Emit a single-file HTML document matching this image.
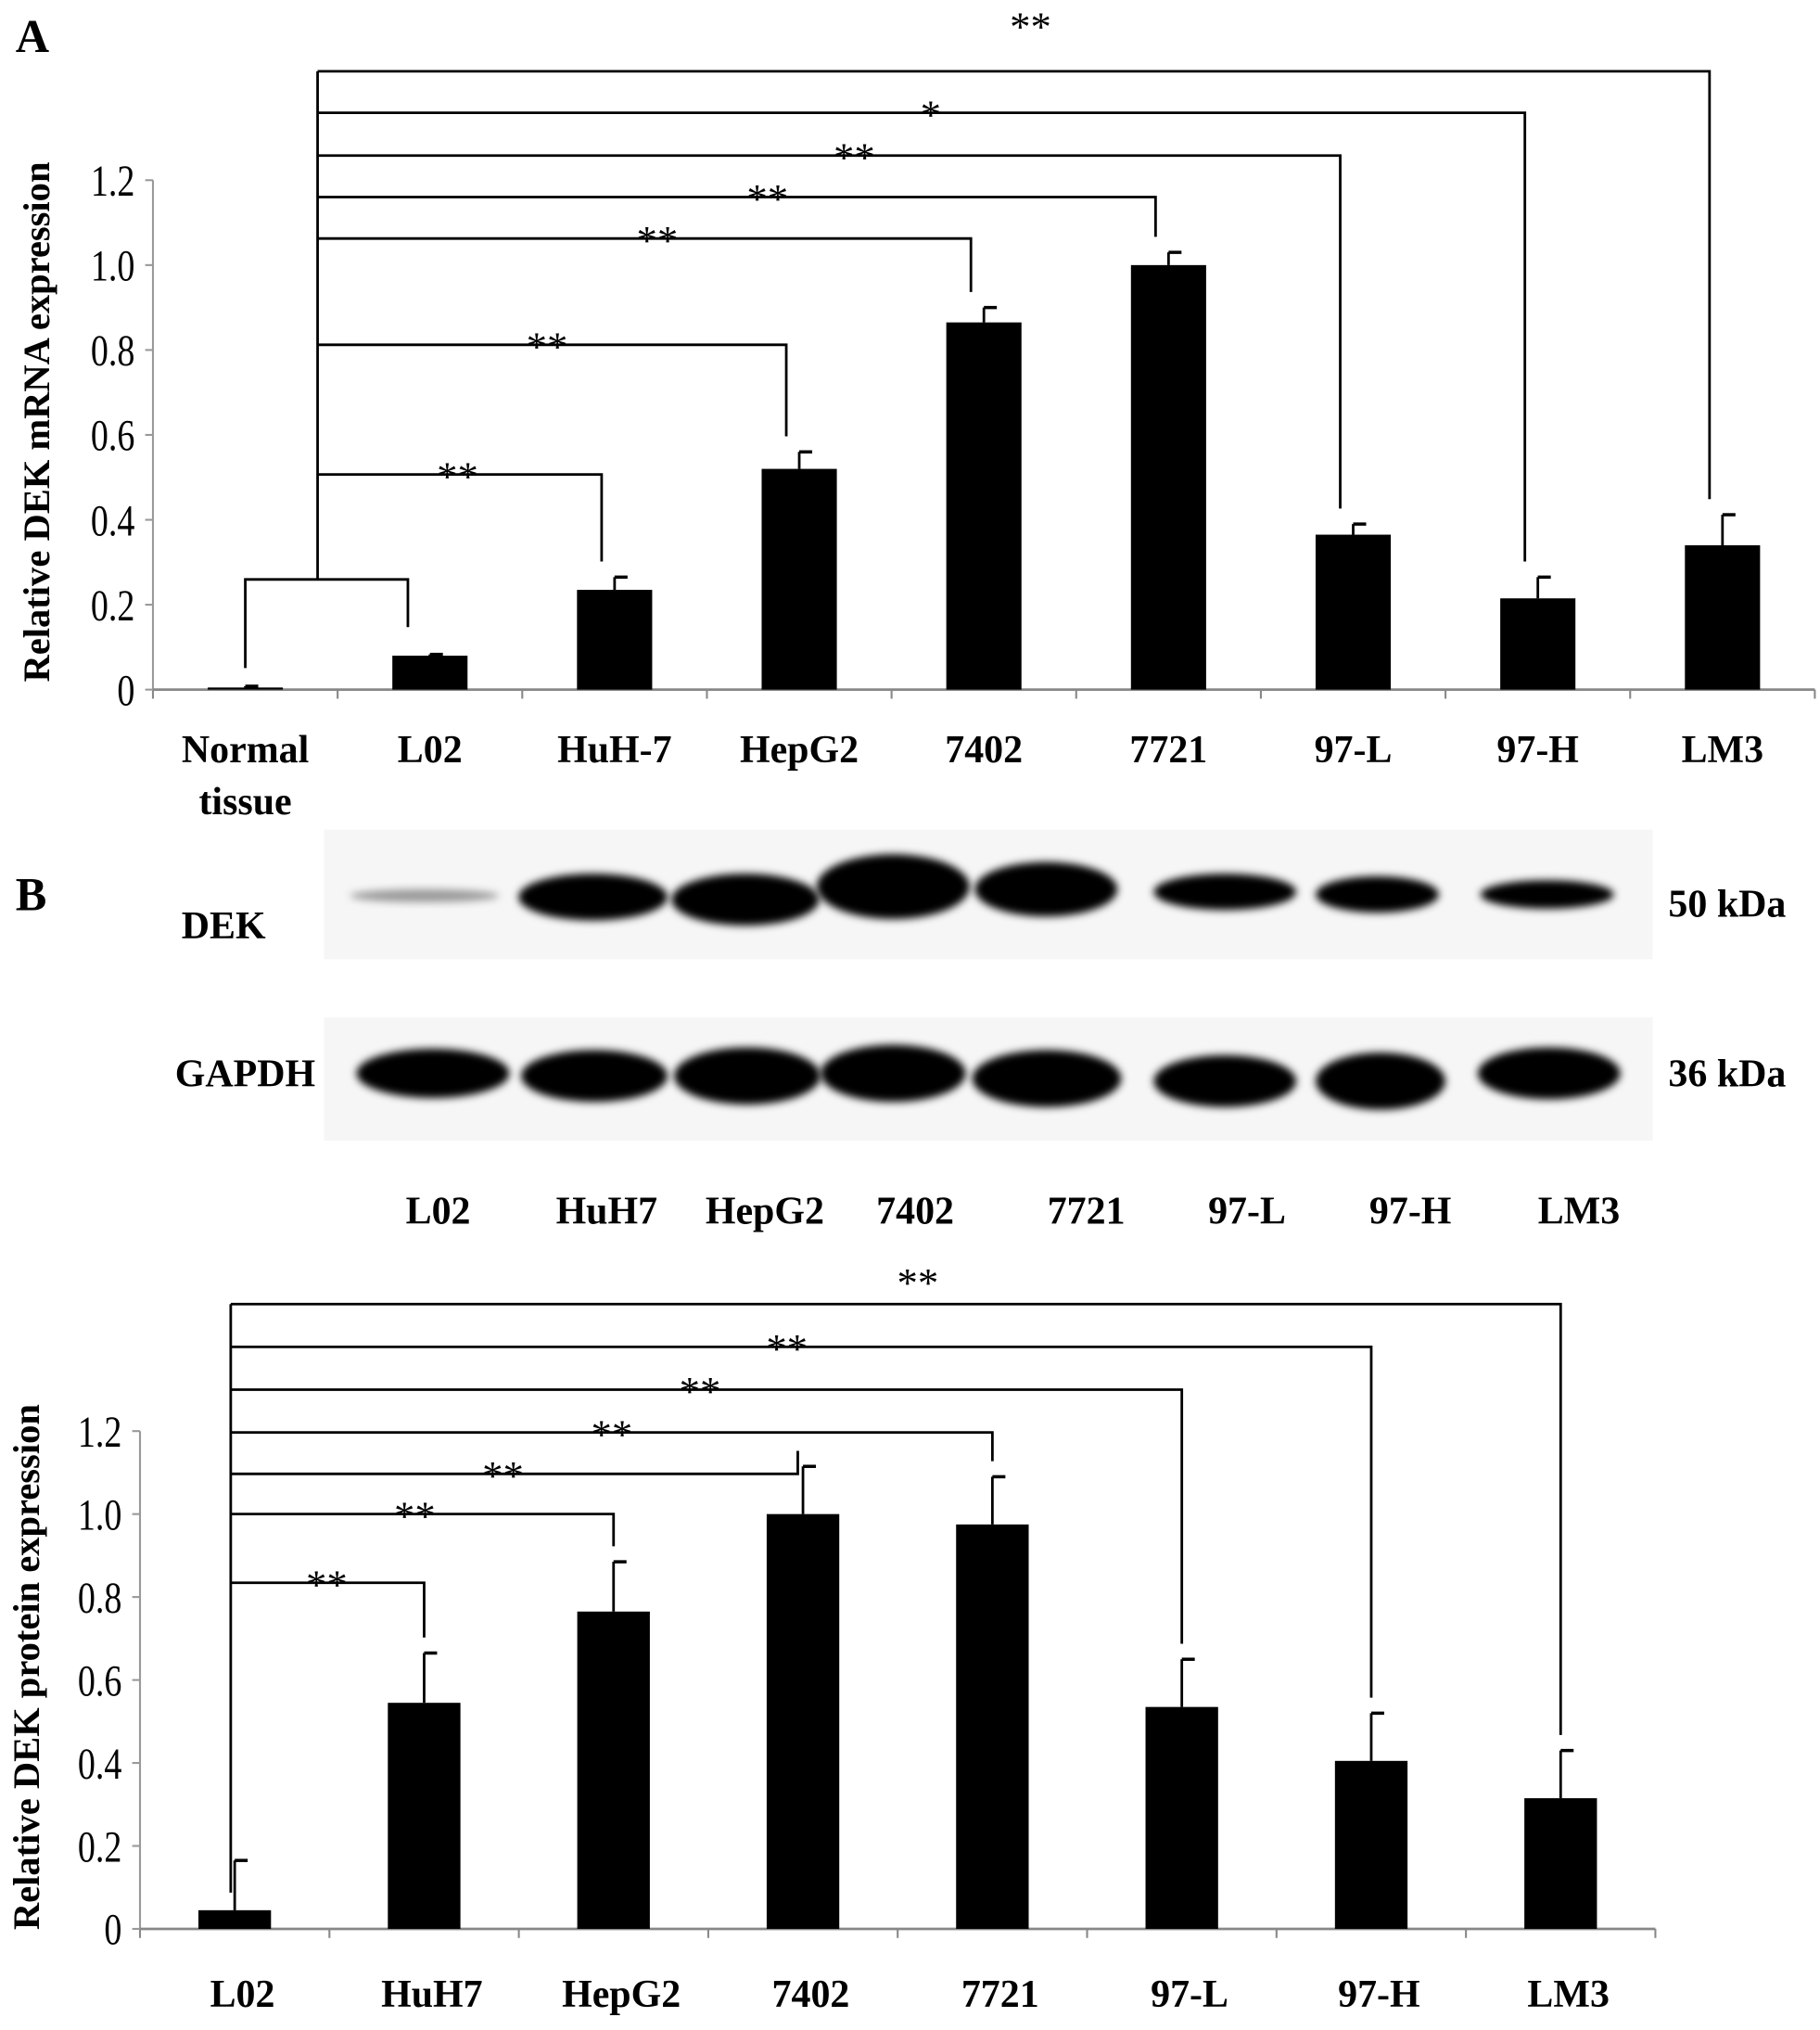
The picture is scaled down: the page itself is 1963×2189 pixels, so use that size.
<!DOCTYPE html>
<html><head><meta charset="utf-8">
<style>
html,body{margin:0;padding:0;background:#fff;}
svg{display:block;}
text{font-family:"Liberation Serif",serif;fill:#000;}
</style></head>
<body>
<svg id="fig" width="1963" height="2189" viewBox="0 0 1404 1566" preserveAspectRatio="none" xmlns="http://www.w3.org/2000/svg">
<defs><filter id="blur" x="-20%" y="-50%" width="140%" height="200%"><feGaussianBlur stdDeviation="3"/></filter></defs>
</svg>
<script>
// ---- Panel A data ----
const catsA = ["Normal tissue","L02","HuH-7","HepG2","7402","7721","97-L","97-H","LM3"];
const valsA = [0.005,0.08,0.235,0.52,0.865,1.0,0.365,0.215,0.34];
const errA  = [0.003,0.003,0.03,0.04,0.035,0.03,0.025,0.05,0.072];
const ticksA = [0,0.2,0.4,0.6,0.8,1.0,1.2];
const tickLabelsA = ["0","0.2","0.4","0.6","0.8","1.0","1.2"];
const sigTargetsA = [2,3,4,5,6,7,8];
const sigLabelsA = ["**","**","**","**","**","*","**"];
// ---- Panel C data ----
const catsC = ["L02","HuH7","HepG2","7402","7721","97-L","97-H","LM3"];
const valsC = [0.045,0.545,0.765,1.0,0.975,0.535,0.405,0.315];
const errC  = [0.12,0.12,0.12,0.115,0.115,0.115,0.115,0.115];
const ticksC = [0,0.2,0.4,0.6,0.8,1.0,1.2];
const tickLabelsC = ["0","0.2","0.4","0.6","0.8","1.0","1.2"];
const sigTargetsC = [1,2,3,4,5,6,7];
const sigLabelsC = ["**","**","**","**","**","**","**"];
// ---- Blot lanes ----
const blotLanes = ["L02","HuH7","HepG2","7402","7721","97-L","97-H","LM3"];

const svg = document.getElementById('fig');
const NS = "http://www.w3.org/2000/svg";
function mk(tag, attrs, parent){const e=document.createElementNS(NS,tag);for(const k in attrs)e.setAttribute(k,attrs[k]);(parent||svg).appendChild(e);return e;}
function txt(s, attrs, parent){const e=mk('text',attrs,parent);e.textContent=s;return e;}

function drawChart(o){
  const g = mk('g',{});
  
  
  const n=o.cats.length, bw=(o.x1-o.x0)/n;
  const xc=i=>o.x0+bw*(i+0.5);
  const y=v=>o.y0-(v/1.2)*(o.y0-o.y12);
  const ya=mk('line',{x1:o.x0,y1:o.y12,x2:o.x0,y2:o.y0,stroke:'#999','stroke-width':1.5},g);
  
  
  const xa=mk('line',{x1:o.x0,y1:o.y0,x2:o.x1,y2:o.y0,stroke:'#888','stroke-width':2},g);
  
  
  for(let i=0;i<=n;i++){mk('line',{x1:o.x0+bw*i,y1:o.y0,x2:o.x0+bw*i,y2:o.y0+7,stroke:'#888','stroke-width':1.5},g);}
  o.ticks.forEach((t,i)=>{
    mk('line',{x1:o.x0-6,y1:y(t),x2:o.x0,y2:y(t),stroke:'#999','stroke-width':1.5},g);
    const tl=txt(o.tickLabels[i],{x:o.x0-14,y:y(t)+12,'text-anchor':'end','font-size':34,transform:`translate(${o.x0-14},0) scale(0.8,1) translate(${-(o.x0-14)},0)`},g);
    
    
  });
  o.vals.forEach((v,i)=>{
    const bar=mk('rect',{x:xc(i)-o.barW/2,y:y(v),width:o.barW,height:o.y0-y(v),fill:'#000'},g);
    
    
    const et=y(v+o.err[i]);
    mk('line',{x1:xc(i),y1:y(v),x2:xc(i),y2:et,stroke:'#000','stroke-width':2},g);
    mk('line',{x1:xc(i),y1:et,x2:xc(i)+10,y2:et,stroke:'#000','stroke-width':2.5},g);
    const lines=o.cats[i].split(' ');
    lines.forEach((s,k)=>{
      const xl=txt(s,{x:xc(i)+o.labelDx,y:o.labelY+k*40,'text-anchor':'middle','font-size':30,'font-weight':'bold'},g);
      
      
    });
  });
  const bx=o.bx;
  o.sigT.forEach((t,k)=>{
    const ly=o.levels[k];
    const tx=xc(t)-o.legDx-(o.legShift?o.legShift[k]:0);
    const legEnd=Math.min(y(o.vals[t]+o.err[t])-12, o.y0);
    mk('polyline',{points:`${bx},${ly} ${tx},${ly} ${tx},${legEnd}`,fill:'none',stroke:'#000','stroke-width':2},g);
    const st=txt(o.sigL[k],{x:o.starX[k],y:ly+(k===o.sigT.length-1?o.topOff:12),'text-anchor':'middle','font-size':32},g);
    
    
  });
  mk('line',{x1:bx,y1:o.levels[o.levels.length-1],x2:bx,y2:o.bxBottom,stroke:'#000','stroke-width':2},g);
  const cx=o.titleX, cy=(o.y0+o.y12)/2-10;
  const yt=txt(o.ytitle,{x:cx,y:cy,'text-anchor':'middle','font-size':29,'font-weight':'bold','font-family':'Liberation Sans',transform:`rotate(-90 ${cx} ${cy})`},g);
  
  
  return {xc,y};
}

const A = drawChart({name:'chart-a-mrna',cats:catsA,vals:valsA,err:errA,ticks:ticksA,tickLabels:tickLabelsA,
  x0:118,x1:1400,y0:532,y12:139,barW:58,labelY:588,labelDx:0,
  sigT:sigTargetsA,sigL:sigLabelsA,topOff:-24,
  levels:[366,266,184,152,120,87,55],starX:[353,422,507,592,659,718,795],
  bx:245,bxBottom:447,legDx:10,titleX:38,ytitle:'Relative DEK mRNA expression'});
mk('polyline',{points:`${A.xc(0)},${A.y(valsA[0])-15} ${A.xc(0)},447 ${A.xc(1)-17},447 ${A.xc(1)-17},${A.y(valsA[1])-22}`,fill:'none',stroke:'#000','stroke-width':2});

drawChart({name:'chart-c-protein',cats:catsC,vals:valsC,err:errC,ticks:ticksC,tickLabels:tickLabelsC,
  x0:108,x1:1277,y0:1488,y12:1104,barW:56,labelY:1548,labelDx:6,
  sigT:sigTargetsC,sigL:sigLabelsC,topOff:-6,legShift:[0,0,4,0,0,0,0],
  levels:[1221,1168,1137,1105,1072,1039,1006],starX:[252,320,388,472,540,607,708],
  bx:178,bxBottom:1460,legDx:0,titleX:30,ytitle:'Relative DEK protein expression'});

const la=txt('A',{x:12,y:40,'font-size':36,'font-weight':'bold'});
const lb=txt('B',{x:12,y:702,'font-size':36,'font-weight':'bold'});

const blot=mk('g',{});


mk('rect',{x:250,y:640,width:1025,height:100,fill:'#f6f6f6'},blot);
mk('rect',{x:250,y:785,width:1025,height:95,fill:'#f6f6f6'},blot);
const dekBands=[[270,385,691,10,'#9a9a9a'],[400,515,692,36,'#000'],[518,632,694,40,'#000'],[630,748,684,50,'#000'],[752,862,686,42,'#000'],[890,1000,688,28,'#000'],[1015,1110,690,28,'#000'],[1142,1245,690,22,'#000']];
const gapBands=[[275,393,828,38],[402,515,830,40],[520,633,830,44],[633,745,828,44],[750,865,832,44],[890,1000,834,40],[1015,1115,834,44],[1140,1250,828,40]];
dekBands.forEach((b,i)=>{
  const e=mk('ellipse',{cx:(b[0]+b[1])/2,cy:b[2],rx:(b[1]-b[0])/2,ry:b[3]/2,fill:b[4],filter:'url(#blur)'},blot);
  
  
});
gapBands.forEach((b,i)=>{
  const e=mk('ellipse',{cx:(b[0]+b[1])/2,cy:b[2],rx:(b[1]-b[0])/2,ry:b[3]/2,fill:'#000',filter:'url(#blur)'},blot);
  
  
});
const blotText=[['DEK',140,724,'start'],['GAPDH',135,838,'start'],['50 kDa',1287,707,'start'],['36 kDa',1287,838,'start']];
blotText.forEach(t=>{const e=txt(t[0],{x:t[1],y:t[2],'font-size':30,'font-weight':'bold','text-anchor':t[3]},blot);
  
  });
const laneX=[338,468,590,706,838,962,1088,1218];
blotLanes.forEach((s,i)=>{const e=txt(s,{x:laneX[i],y:944,'font-size':30,'font-weight':'bold','text-anchor':'middle'},blot);
  
  });
</script>
</body></html>
